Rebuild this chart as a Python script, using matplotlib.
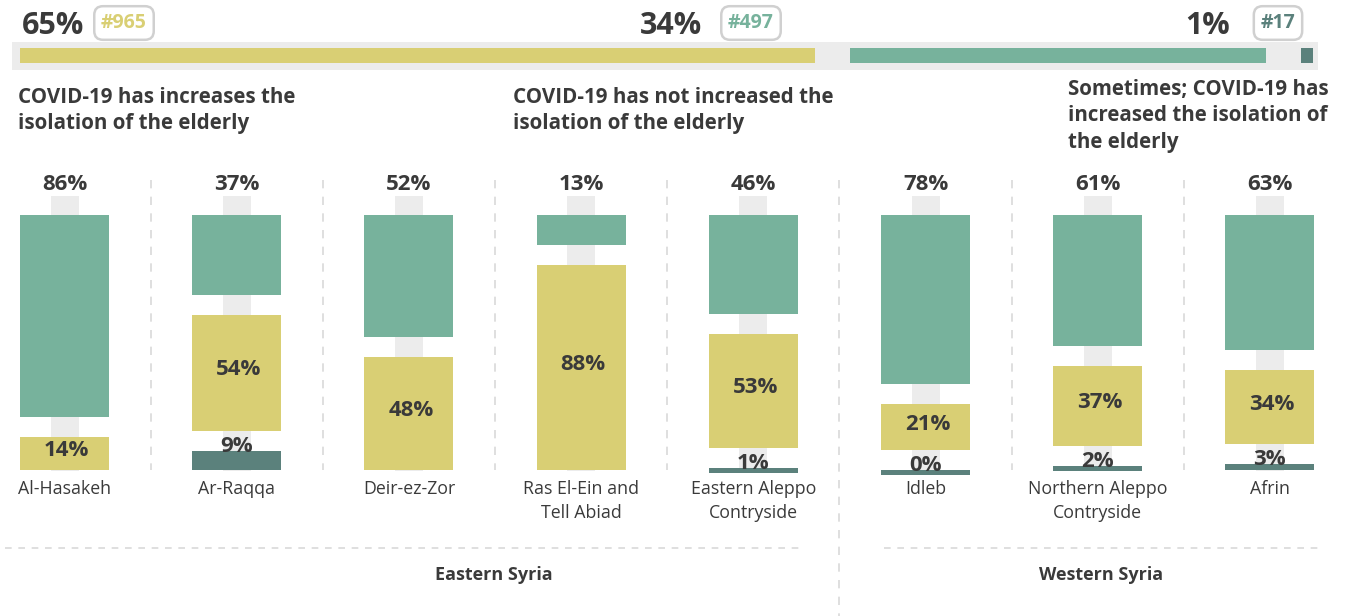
import numpy as np
import matplotlib
matplotlib.use("Agg")
import matplotlib.pyplot as plt

plt.rcParams['font.family'] = ['Open Sans', 'DejaVu Sans']

# overall answer shares
overall_pct = [65, 34, 1]
overall_n = ["#965", "#497", "#17"]

# per-area answers (teal = increased, yellow = not increased, dark = sometimes)
areas = ["Al-Hasakeh", "Ar-Raqqa", "Deir-ez-Zor", "Ras El-Ein and\nTell Abiad",
         "Eastern Aleppo\nContryside", "Idleb", "Northern Aleppo\nContryside", "Afrin"]
teal = [86, 37, 52, 13, 46, 78, 61, 63]
yellow = [14, 54, 48, 88, 53, 21, 37, 34]
dark = [np.nan, 9, np.nan, np.nan, 1, 0, 2, 3]

headers = ["COVID-19 has increases the\nisolation of the elderly",
           "COVID-19 has not increased the\nisolation of the elderly",
           "Sometimes; COVID-19 has\nincreased the isolation of\nthe elderly"]
regions = ["Eastern Syria", "Western Syria"]

C_TEAL = "#77b29c"
C_YEL = "#d9cf74"
C_DARK = "#5b817c"
C_TRACK = "#ececec"
C_TXT = "#3a3a3a"
C_LINE = "#d9d9d9"

fig = plt.figure(figsize=(13.55, 6.16), dpi=100)
ax = fig.add_axes([0, 0, 1, 1])
ax.set_xlim(0, 1355)
ax.set_ylim(616, 0)
ax.axis("off")

# ---- top summary bar ----
bar_l, bar_r, gap_top = 20, 1313, 35
ax.barh(56, 1306, left=12, height=28, color=C_TRACK, zorder=1)
avail = (bar_r - bar_l) - gap_top * (len(overall_pct) - 1)
left = bar_l
for p, col in zip(overall_pct, [C_YEL, C_TEAL, C_DARK]):
    w = p / sum(overall_pct) * avail
    ax.barh(55.5, w, left=left, height=15, color=col, zorder=2)
    left += w + gap_top

lab_x = [22, 640, 1185]
box_x = [124, 751, 1278]
for p, n, x, bx, col in zip(overall_pct, overall_n, lab_x, box_x,
                            [C_YEL, C_TEAL, C_DARK]):
    ax.text(x, 34, f"{p}%", fontsize=22, fontweight="bold", color=C_TXT,
            ha="left", va="baseline")
    ax.text(bx, 23, n, fontsize=14, fontweight="bold", color=col,
            ha="center", va="center",
            bbox=dict(boxstyle="round,pad=0.35,rounding_size=0.45", fc="white",
                      ec="#d0d0d0", lw=1.8))

# ---- headers ----
for txt, x, y in zip(headers, [18, 513, 1068], [87, 87, 79]):
    ax.text(x, y, txt, fontsize=14.8, fontweight="bold", color=C_TXT,
            ha="left", va="top", linespacing=1.33)

# ---- columns ----
x0, step = 64.5, 172.2
centers = x0 + step * np.arange(len(areas))
top, H, gap = 215, 255, 20

ax.bar(centers, 275, bottom=196, width=28, color=C_TRACK, zorder=1)

for i, cx in enumerate(centers):
    vals = [teal[i], yellow[i], dark[i]]
    cols = [C_TEAL, C_YEL, C_DARK]
    present = [k for k, v in enumerate(vals) if not np.isnan(v)]
    tot = sum(vals[k] for k in present)
    room = H - gap * (len(present) - 1)
    y = top
    for k in present:
        h = max(vals[k] / tot * room, 5)
        ax.bar(cx, h, bottom=y, width=89, color=cols[k], zorder=2)
        if k == 0:
            ax.text(cx, 184, f"{vals[k]:.0f}%", fontsize=16, fontweight="bold",
                    color=C_TXT, ha="center", va="center", zorder=3)
        elif k == 1:
            ax.text(cx + 2, y + h / 2 - 3, f"{vals[k]:.0f}%", fontsize=16,
                    fontweight="bold", color=C_TXT, ha="center", va="center",
                    zorder=3)
        else:
            ax.text(cx, y + 1, f"{vals[k]:.0f}%", fontsize=16,
                    fontweight="bold", color=C_TXT, ha="center",
                    va="baseline", zorder=3)
        y += h + gap
    ax.text(cx, 480, areas[i], fontsize=12.8, color=C_TXT, ha="center",
            va="top", linespacing=1.4)

# separators between columns
for i in range(len(areas) - 1):
    sx = (centers[i] + centers[i + 1]) / 2
    y_end = 616 if i == 4 else 470
    ax.plot([sx, sx], [180, y_end], color=C_LINE, lw=1.2,
            linestyle=(0, (5, 5)), zorder=0)

# region footers
ax.plot([5, 800], [548, 548], color=C_LINE, lw=1.2, linestyle=(0, (4, 4)))
ax.plot([884, 1318], [548, 548], color=C_LINE, lw=1.2, linestyle=(0, (4, 4)))
for txt, x in zip(regions, [494, 1101]):
    ax.text(x, 575, txt, fontsize=13, fontweight="bold", color=C_TXT,
            ha="center", va="center")

fig.savefig("out.png", dpi=100)
